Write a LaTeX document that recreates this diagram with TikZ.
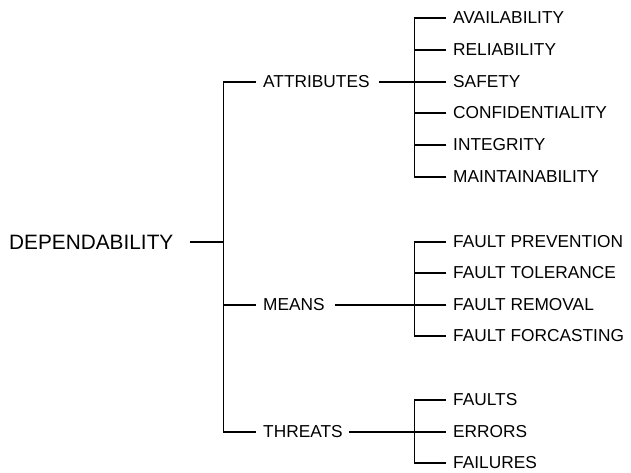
\documentclass[tikz,border=0pt]{standalone}
\usepackage{fontspec}
\setmainfont{Liberation Sans}
\begin{document}
\begin{tikzpicture}[x=1pt,y=-1pt,
  lbl/.style={anchor=west,inner sep=0pt,font=\fontsize{17.3}{20}\selectfont},
  conn/.style={line width=1.6pt}]
\useasboundingbox (0,0) rectangle (631,473);
\coordinate (b1) at (223.5,0);
\coordinate (b2) at (414.5,0);
\node[anchor=west,inner sep=0pt,font=\fontsize{20.8}{24}\selectfont] (dep) at (9,242) {DEPENDABILITY};
\node[lbl] (att) at (263,82) {ATTRIBUTES};
\node[lbl] (mea) at (263,305) {MEANS};
\node[lbl] (thr) at (263,432) {THREATS};
\node[lbl] (av) at (453,18) {AVAILABILITY};
\node[lbl] (re) at (453,50) {RELIABILITY};
\node[lbl] (sa) at (453,82) {SAFETY};
\node[lbl] (co) at (453,113) {CONFIDENTIALITY};
\node[lbl] (in) at (453,145) {INTEGRITY};
\node[lbl] (ma) at (453,177) {MAINTAINABILITY};
\node[lbl] (fp) at (453,242) {FAULT PREVENTION};
\node[lbl] (ft) at (453,273) {FAULT TOLERANCE};
\node[lbl] (fr) at (453,305) {FAULT REMOVAL};
\node[lbl] (ff) at (453,336) {FAULT FORCASTING};
\node[lbl] (fa) at (453,400) {FAULTS};
\node[lbl] (er) at (453,432) {ERRORS};
\node[lbl] (fl) at (453,463) {FAILURES};
% level 1
\draw[conn] ([xshift=16pt]dep.east) -- (b1 |- dep.east);
\draw[conn] ([xshift=-7pt]att.west) -| (b1 |- thr.west) -- ([xshift=-7pt]thr.west);
\draw[conn] (b1 |- mea.west) -- ([xshift=-7pt]mea.west);
% attributes
\draw[conn] ([xshift=9pt]att.east) -- (b2 |- att.east);
\draw[conn] ([xshift=-7pt]av.west) -| (b2 |- ma.west) -- ([xshift=-7pt]ma.west);
\foreach \n in {re,sa,co,in}{\draw[conn] (b2 |- \n.west) -- ([xshift=-7pt]\n.west);}
% means
\draw[conn] ([xshift=10pt]mea.east) -- (b2 |- mea.east);
\draw[conn] ([xshift=-7pt]fp.west) -| (b2 |- ff.west) -- ([xshift=-7pt]ff.west);
\foreach \n in {ft,fr}{\draw[conn] (b2 |- \n.west) -- ([xshift=-7pt]\n.west);}
% threats
\draw[conn] ([xshift=6pt]thr.east) -- (b2 |- thr.east);
\draw[conn] ([xshift=-7pt]fa.west) -| (b2 |- fl.west) -- ([xshift=-7pt]fl.west);
\draw[conn] (b2 |- er.west) -- ([xshift=-7pt]er.west);
\end{tikzpicture}
\end{document}
